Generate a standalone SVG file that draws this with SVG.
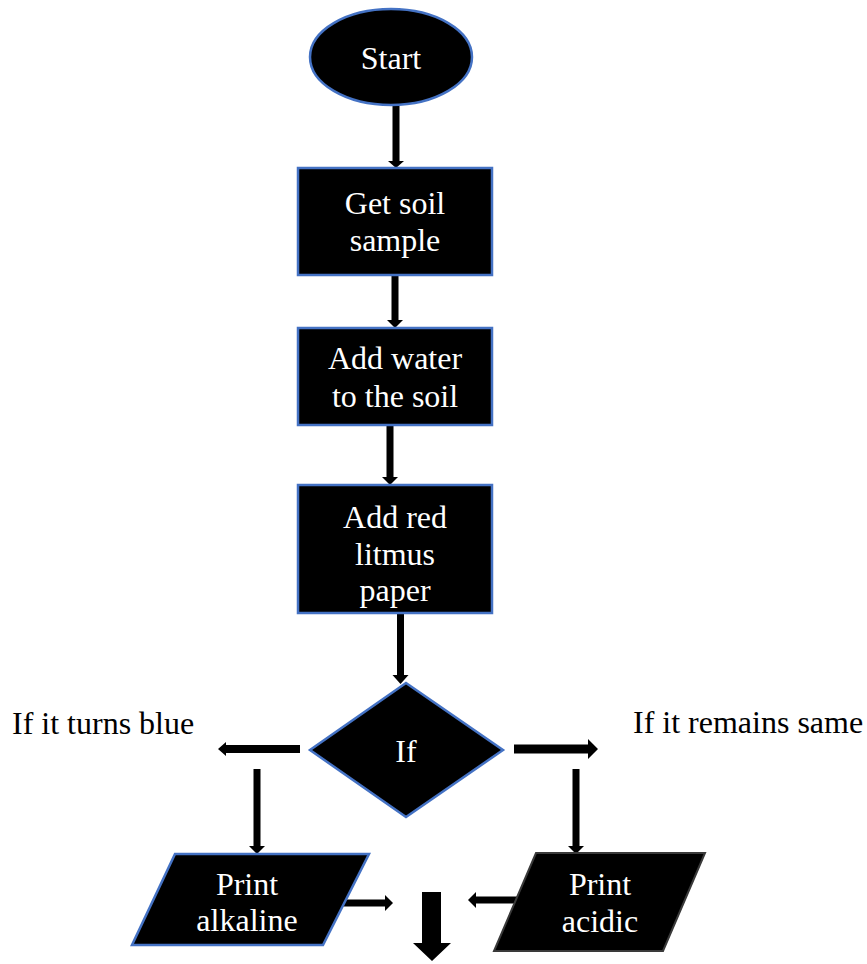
<svg xmlns="http://www.w3.org/2000/svg" width="867" height="964" viewBox="0 0 867 964">
<style>
.node{fill:#000;stroke:#4472C4;stroke-width:2.5}
.node2{fill:#000;stroke:#3a3a3a;stroke-width:2}
.t{font-family:"Liberation Serif","Times New Roman",serif;font-size:32px;fill:#fff;text-anchor:middle}
.lbl{font-family:"Liberation Serif","Times New Roman",serif;font-size:32px;fill:#000}
.arr{fill:#000;stroke:none}
</style>
<rect width="867" height="964" fill="#fff"/>
<g id="connectors">
<polygon class="arr" points="392.5,105 399.5,105 399.5,161 404,161 396,168 388,161 392.5,161"/>
<polygon class="arr" points="391.5,275 398.5,275 398.5,320 403,320 395,328 387,320 391.5,320"/>
<polygon class="arr" points="386.5,425 393.5,425 393.5,477 398,477 390,485 382,477 386.5,477"/>
<polygon class="arr" points="397,613 404,613 404,675 408.5,675 400.5,684 392.5,675 397,675"/>
<polygon class="arr" points="300,745 226,745 226,742 218,749 226,756 226,753 300,753"/>
<polygon class="arr" points="514,744.5 588,744.5 588,739 598,749 588,759 588,753.5 514,753.5"/>
<polygon class="arr" points="253.5,769 260.5,769 260.5,846 265,846 257,854 249,846 253.5,846"/>
<polygon class="arr" points="572.5,769 579.5,769 579.5,846 584,846 576,854 568,846 572.5,846"/>
<polygon class="arr" points="343,899.5 385,899.5 385,895 393,903 385,911 385,906.5 343,906.5"/>
<polygon class="arr" points="518,896.5 476,896.5 476,892 468,900 476,908 476,903.5 518,903.5"/>
<polygon class="arr" points="422,892 441,892 441,943 451,943 432,961 413,943 422,943"/>
</g>
<g id="start">
<ellipse class="node" cx="391" cy="57" rx="81" ry="48"/>
<text class="t" x="391" y="69">Start</text>
</g>
<g id="get-soil">
<rect class="node" x="298" y="168" width="194" height="107"/>
<text class="t" x="395" y="214">Get soil</text>
<text class="t" x="395" y="251">sample</text>
</g>
<g id="add-water">
<rect class="node" x="298" y="328" width="194" height="97"/>
<text class="t" x="395" y="369">Add water</text>
<text class="t" x="395" y="407">to the soil</text>
</g>
<g id="add-litmus">
<rect class="node" x="298" y="485" width="194" height="128"/>
<text class="t" x="395" y="528">Add red</text>
<text class="t" x="395" y="565">litmus</text>
<text class="t" x="395" y="601">paper</text>
</g>
<g id="if">
<polygon class="node" points="406,683 503,750 406,817 310,750"/>
<text class="t" x="406" y="762">If</text>
</g>
<g id="label-blue">
<text class="lbl" x="12" y="734">If it turns blue</text>
</g>
<g id="label-same">
<text class="lbl" x="633" y="733">If it remains same</text>
</g>
<g id="print-alkaline">
<polygon class="node" points="175,854 369,854 323,945 132,945"/>
<text class="t" x="247" y="895">Print</text>
<text class="t" x="247" y="931">alkaline</text>
</g>
<g id="print-acidic">
<polygon class="node2" points="536,853 705,853 663,951 494,951"/>
<text class="t" x="600" y="895">Print</text>
<text class="t" x="600" y="932">acidic</text>
</g>
</svg>
